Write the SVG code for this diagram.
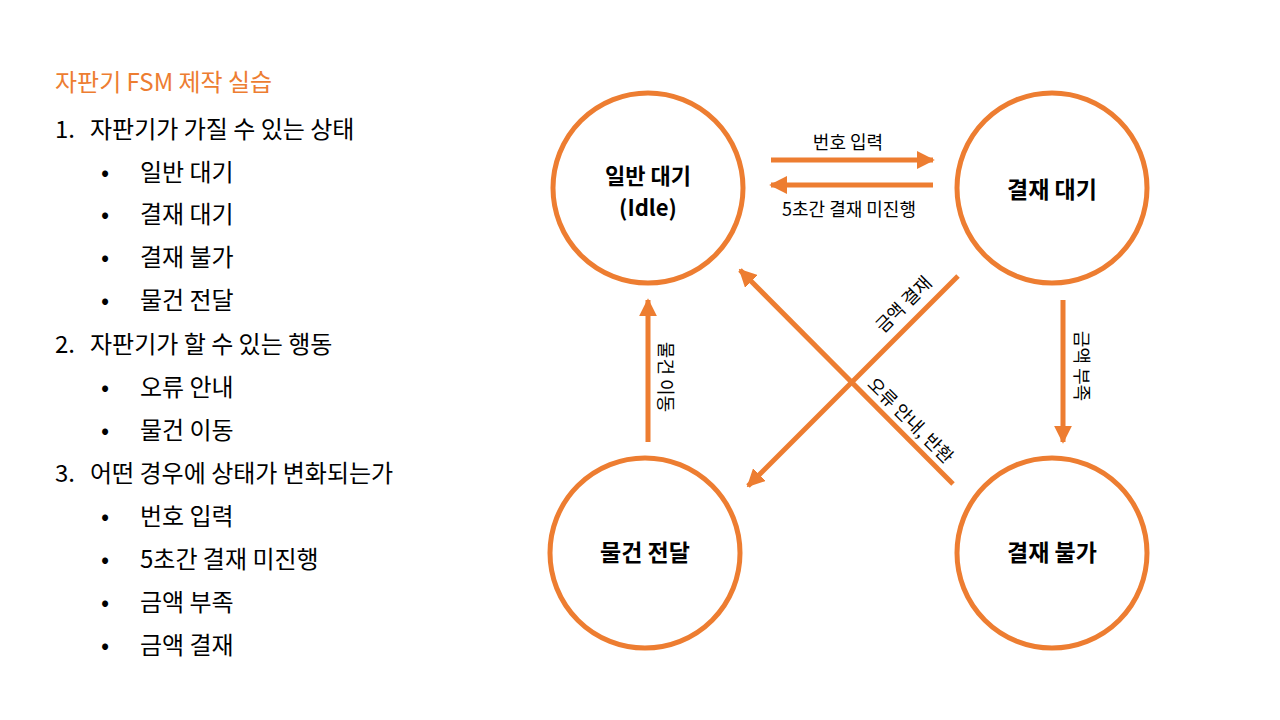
<svg xmlns="http://www.w3.org/2000/svg" width="1280" height="720" viewBox="0 0 1280 720">
<defs>
<marker id="ah" viewBox="0 0 10 10" refX="9" refY="5" markerWidth="3.6" markerHeight="3.6" orient="auto" markerUnits="strokeWidth">
<path d="M0,0 L10,5 L0,10 z" fill="#ED7D31"/>
</marker>
</defs>
<style>
text{font-family:"Noto Sans CJK KR","Noto Sans",sans-serif;fill:#000}
.t{font-size:24px}
.h{font-size:24px;fill:#ED7D31}
.n{font-size:23px;font-weight:bold;text-anchor:middle}
.l{font-size:18px;text-anchor:middle}
.c{fill:#fff;stroke:#ED7D31;stroke-width:5}
.e{stroke:#ED7D31;stroke-width:5;fill:none;marker-end:url(#ah)}
</style>
<rect width="1280" height="720" fill="#fff"/>
<g id="outline">
<text class="h" x="55" y="91">자판기 FSM 제작 실습</text>
<text class="t" x="55" y="138">1.</text><text class="t" x="90" y="138">자판기가 가질 수 있는 상태</text>
<text class="t" x="101" y="181">•</text><text class="t" x="140" y="181">일반 대기</text>
<text class="t" x="101" y="223">•</text><text class="t" x="140" y="223">결재 대기</text>
<text class="t" x="101" y="266">•</text><text class="t" x="140" y="266">결재 불가</text>
<text class="t" x="101" y="309">•</text><text class="t" x="140" y="309">물건 전달</text>
<text class="t" x="55" y="353">2.</text><text class="t" x="90" y="353">자판기가 할 수 있는 행동</text>
<text class="t" x="101" y="396">•</text><text class="t" x="140" y="396">오류 안내</text>
<text class="t" x="101" y="439">•</text><text class="t" x="140" y="439">물건 이동</text>
<text class="t" x="55" y="482">3.</text><text class="t" x="90" y="482">어떤 경우에 상태가 변화되는가</text>
<text class="t" x="101" y="525">•</text><text class="t" x="140" y="525">번호 입력</text>
<text class="t" x="101" y="568">•</text><text class="t" x="140" y="568">5초간 결재 미진행</text>
<text class="t" x="101" y="611">•</text><text class="t" x="140" y="611">금액 부족</text>
<text class="t" x="101" y="654">•</text><text class="t" x="140" y="654">금액 결재</text>
</g>
<g id="connectors">
<line class="e" x1="771" y1="160" x2="933" y2="160"/>
<line class="e" x1="933" y1="185" x2="771" y2="185"/>
<line class="e" x1="648" y1="442" x2="648" y2="300"/>
<line class="e" x1="1063" y1="300" x2="1063" y2="442"/>
<line class="e" x1="958" y1="276" x2="748" y2="486"/>
<line class="e" x1="953" y1="484" x2="740" y2="270"/>
<text class="l" x="848" y="149">번호 입력</text>
<text class="l" x="849" y="216">5초간 결재 미진행</text>
<text class="l" transform="translate(659,377) rotate(90)">물건 이동</text>
<text class="l" transform="translate(1075,366) rotate(90)">금액 부족</text>
<text class="l" transform="translate(908,309) rotate(-45)">금액 결재</text>
<text class="l" transform="translate(906,425) rotate(45)">오류 안내, 반환</text>
</g>
<g id="idle"><circle class="c" cx="648" cy="188" r="95"/><text class="n" x="648" y="184" style="font-size:22px">일반 대기</text><text class="n" x="648" y="216" style="font-size:22px">(Idle)</text></g>
<g id="wait"><circle class="c" cx="1052" cy="188" r="95"/><text class="n" x="1052" y="198">결재 대기</text></g>
<g id="deliver"><circle class="c" cx="645" cy="553" r="95"/><text class="n" x="645" y="561">물건 전달</text></g>
<g id="fail"><circle class="c" cx="1052" cy="553" r="95"/><text class="n" x="1052" y="561">결재 불가</text></g>
</svg>
